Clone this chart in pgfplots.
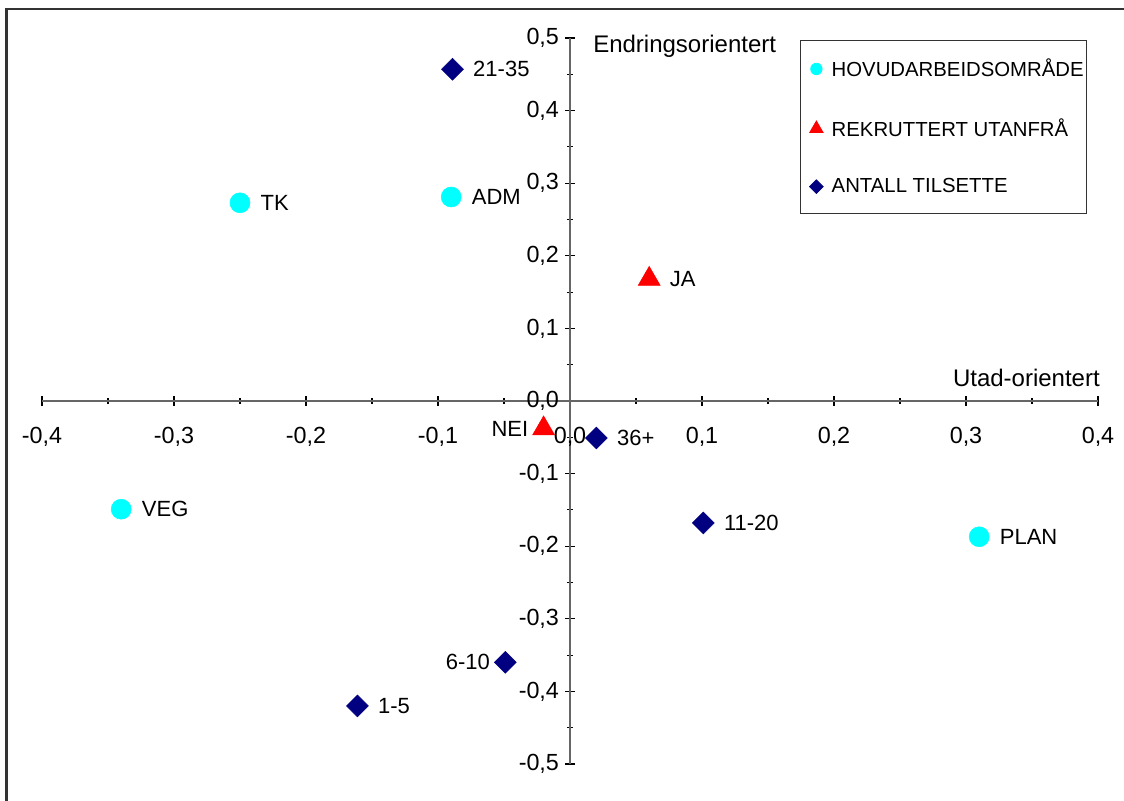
\documentclass[border=0pt]{standalone}
\usepackage{pgfplots}
\pgfplotsset{compat=1.18}
\usepackage{fontspec}
\setmainfont{Liberation Sans}
\definecolor{cy}{HTML}{00FFFF}
\definecolor{nv}{HTML}{000080}
\definecolor{rd}{HTML}{FF0000}
\begin{document}
\begin{tikzpicture}
\useasboundingbox (-31.5pt,-27pt) rectangle (811.5pt,573pt);
\draw[line width=1.8pt, color=black!80] (-26.6pt,-40pt) -- (-26.6pt,566.25pt) -- (830pt,566.25pt);
\begin{axis}[
  at={(0pt,0pt)}, anchor=south west,
  scale only axis, width=792pt, height=544.5pt,
  axis lines=middle, axis line style={-, black!60, line width=0.8pt},
  xmin=-0.4, xmax=0.4, ymin=-0.5, ymax=0.5,
  xtick={-0.4,-0.3,-0.2,-0.1,0,0.1,0.2,0.3,0.4},
  ytick={-0.5,-0.4,-0.3,-0.2,-0.1,0,0.1,0.2,0.3,0.4,0.5},
  hide obscured x ticks=false, hide obscured y ticks=false,
  minor tick num=1,
  tick align=center,
  major tick length=7.5pt, minor tick length=4.5pt,
  every tick/.style={black, line width=0.8pt},
  font=\fontsize{17.5}{20}\selectfont,
  /pgf/number format/.cd, fixed, fixed zerofill, precision=1, use comma, assume math mode=true,
  /pgfplots/.cd,
  xticklabel style={yshift=-12pt},
  yticklabel style={xshift=-1pt},
  clip=false,
  legend style={at={(axis description cs:0.7178,0.9972)}, anchor=north west,
    draw=black!80, line width=0.6pt, font=\fontsize{15.25}{18}\selectfont,
    row sep=26pt, inner xsep=0pt, inner ysep=12pt, legend cell align=left},
  legend image code/.code={\draw[#1] plot coordinates {(0cm,0cm)}; \path[draw=none,fill=none] (-12pt,-3pt) rectangle (9.5pt,3pt);},
  nodes near coords={\pgfplotspointmeta},
  point meta=explicit symbolic,
  every node near coord/.append style={black, font=\fontsize{16.5}{19}\selectfont, anchor=west, xshift=12pt, yshift=0pt},
]
\addplot[only marks, mark=*, mark size=7.5pt, color=cy, mark options={fill=cy, draw=cy},
  legend image post style={mark size=4.3pt}] table[meta=label] {
x y label
-0.250 0.273 TK
-0.090 0.281 ADM
-0.340 -0.149 VEG
0.310 -0.187 PLAN
};
\addlegendentry{HOVUDARBEIDSOMRÅDE}
\addplot[only marks, mark=triangle*, mark size=9.5pt, color=rd, mark options={fill=rd, draw=rd},
  legend image post style={mark size=5.8pt}] table[meta=label] {
x y label
0.060 0.168 JA
};
\addlegendentry{REKRUTTERT UTANFRÅ}
\addplot[only marks, mark=square*, mark size=5.8pt, color=nv, mark options={fill=nv, draw=nv, rotate=45},
  legend image post style={mark size=3.6pt}] table[meta=label] {
x y label
-0.089 0.457 21-35
0.020 -0.051 36+
0.101 -0.168 11-20
-0.161 -0.420 1-5
};
\addlegendentry{ANTALL TILSETTE}
\addplot[only marks, forget plot, mark=triangle*, mark size=9.5pt, color=rd, mark options={fill=rd, draw=rd},
  every node near coord/.append style={anchor=east, xshift=-20pt}] table[meta=label] {
x y label
-0.020 -0.038 NEI
};
\addplot[only marks, forget plot, mark=square*, mark size=5.8pt, color=nv, mark options={fill=nv, draw=nv, rotate=45},
  every node near coord/.append style={anchor=east, xshift=-20pt}] table[meta=label] {
x y label
-0.049 -0.360 6-10
};
\node[anchor=west, font=\fontsize{18}{21}\selectfont, inner sep=0pt] at (axis description cs:0.5218,0.989) {Endringsorientert};
\node[anchor=east, font=\fontsize{18}{21}\selectfont, inner sep=0pt] at (axis description cs:1.0019,0.5317) {Utad-orientert};
\end{axis}
\end{tikzpicture}
\end{document}
